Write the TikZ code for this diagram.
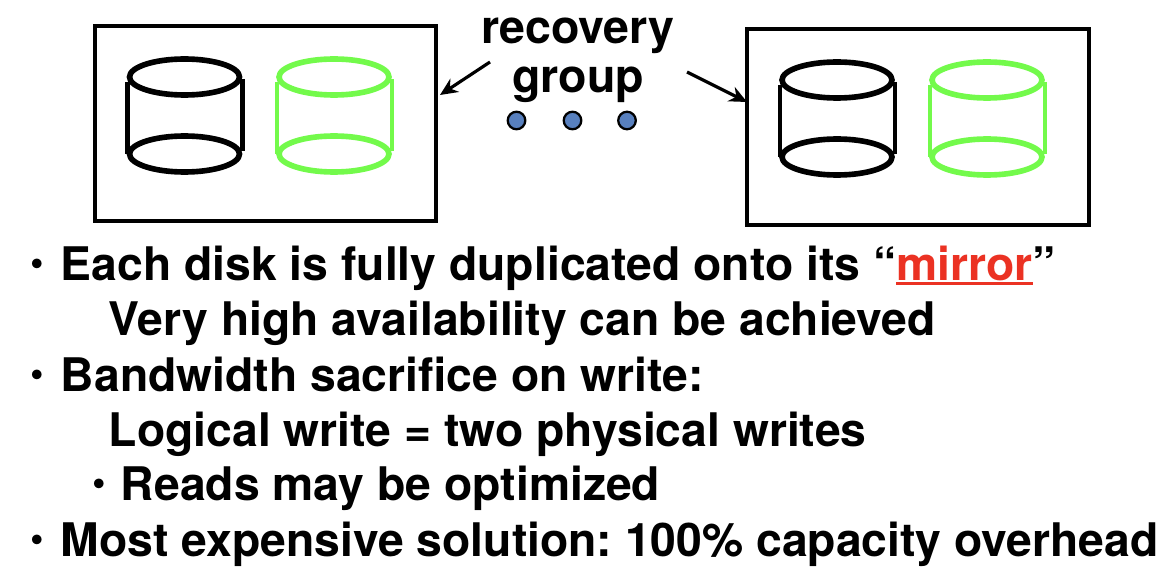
\documentclass[tikz,border=0pt]{standalone}
\usepackage{fontspec}
\setmainfont{TeX Gyre Heros}
\usetikzlibrary{arrows.meta}
\definecolor{diskGreen}{RGB}{115, 250, 75}
\definecolor{mirrorRed}{RGB}{235, 50, 35}
\definecolor{dotBlue}{RGB}{88, 128, 190}
\tikzset{
  groupbox/.style={line width=1.8pt},
  label/.style={font=\fontsize{26.5}{30}\selectfont\bfseries, inner sep=0pt},
  line/.style={font=\fontsize{26.35}{30}\selectfont\bfseries\frenchspacing, inner sep=0pt, anchor=base west},
  bullet/.style={font=\fontsize{22}{24}\selectfont\bfseries, inner sep=0pt, anchor=base west},
  dot/.style={circle, draw, fill=dotBlue, line width=1.3pt, minimum size=10pt, inner sep=0pt},
  pointer/.style={line width=1.8pt, -{Stealth[length=10pt, width=9pt]}}
}
\newcommand{\heavyline}[1]{\setbox0\hbox{#1}\rlap{\rule[-3pt]{\wd0}{1.6pt}}\box0}
\newcommand{\disk}[3]{%
  \begin{scope}[shift={(#1,#2)}, draw=#3, line width=3.2pt]
    \draw (0,0) ellipse [x radius=55, y radius=18];
    \draw (0,77) ellipse [x radius=55, y radius=18];
    \draw[line width=2.7pt] (-57,5) -- (-57,77);
    \draw[line width=2.7pt] (58,2) -- (58,74);
  \end{scope}}

\begin{document}
\begin{tikzpicture}[x=0.02cm, y=-0.02cm]
  \useasboundingbox (0,0) rectangle (1160,588);
  % the two groups
  \draw[groupbox] (95,26) rectangle (436,221);
  \draw[groupbox] (747,29) rectangle (1089,225);
  \disk{184.5}{77}{black}
  \disk{334}{77}{diskGreen}
  \disk{837}{80}{black}
  \disk{987}{80}{diskGreen}
  % title and pointers
  \node[label, anchor=base] (recovery) at (578,44) {recovery};
  \node[label, anchor=base] (group) at (578,92) {group};
  \coordinate (leftTail) at (490,62);
  \coordinate (leftTip) at (440,95);
  \coordinate (rightTail) at (687,72);
  \coordinate (rightTip) at (747,102);
  \draw[pointer] (leftTail) -- (leftTip);
  \draw[pointer] (rightTail) -- (rightTip);
  \node[dot] (dotA) at (516.5,120.5) {};
  \node[dot] (dotB) at (572.5,120.5) {};
  \node[dot] (dotC) at (627,120.5) {};
  % text
  \node[bullet] (bulletA) at (30,275) {•};
  \node[line] (each) at (60.5,280) {Each disk is fully duplicated onto its “\textcolor{mirrorRed}{\heavyline{mirror}}”};
  \node[line] (high) at (108.5,335) {Very high availability can be achieved};
  \node[bullet] (bulletB) at (30,386) {•};
  \node[line] (band) at (60.5,391) {Bandwidth sacrifice on write:};
  \node[line] (logical) at (108.5,446) {Logical write = two physical writes};
  \node[bullet] (bulletC) at (92,495) {•};
  \node[line] (reads) at (120.5,500) {Reads may be optimized};
  \node[bullet] (bulletD) at (30,551) {•};
  \node[line] (most) at (60.5,556) {Most expensive solution: 100\% capacity overhead};
\end{tikzpicture}
\end{document}
